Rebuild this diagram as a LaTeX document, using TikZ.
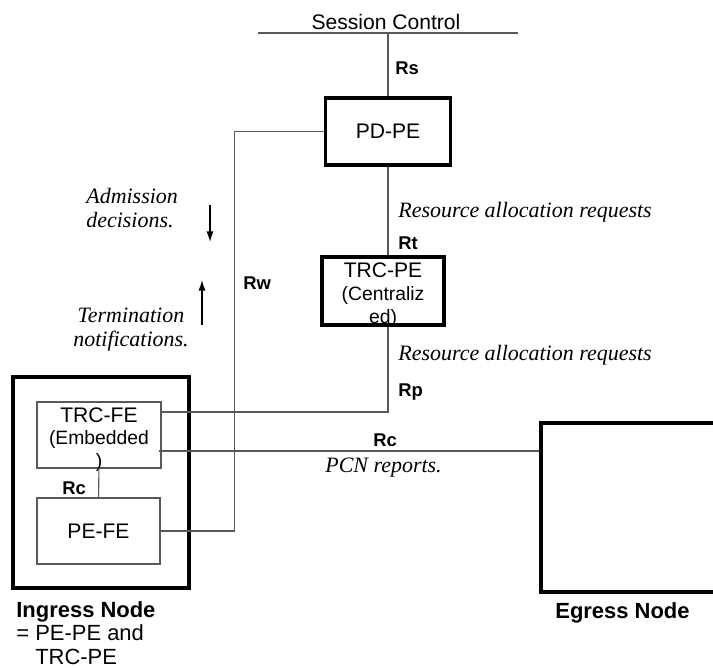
\documentclass[tikz,border=0pt]{standalone}
\usepackage{fontspec}
\setmainfont{Liberation Sans}
\newfontfamily\notefont{Liberation Serif}
\usetikzlibrary{arrows.meta, positioning}
\tikzset{
    pebox/.style={
        rectangle, draw=black, line width=2.2pt,
        inner sep=0pt, align=center,
        font=\fontsize{12}{14}\selectfont
    },
    febox/.style={
        rectangle, draw=black!65, line width=0.6pt,
        inner sep=0pt, align=center,
        font=\fontsize{12}{14}\selectfont
    },
    boxtext/.style={inner sep=0pt, align=center, font=\fontsize{11}{13}\selectfont},
    link/.style={draw=black!65, line width=0.6pt},
    tag/.style={font=\fontsize{10.5}{12}\selectfont\bfseries, inner sep=0pt, anchor=west},
    note/.style={font=\notefont\itshape\fontsize{12.5}{13.5}\selectfont, inner sep=0pt},
    nodename/.style={font=\fontsize{12.5}{13.5}\selectfont, inner sep=0pt},
    flowarrow/.style={draw=black, line width=0.7pt, -{Latex[length=6pt, width=4pt]}}
}

\begin{document}
\begin{tikzpicture}[x=0.02cm, y=-0.02cm]
\useasboundingbox (0,0) rectangle (713,668);

% Session control bus (top)
\node[font=\fontsize{12}{14}\selectfont, anchor=base] (session) at (386,30) {Session Control};
\coordinate (busl) at (258,33);
\coordinate (busr) at (518,33);
\draw[link] (busl) -- (busr);

% Policy decision and centralized TRC
\node[pebox, minimum width=2.5cm, minimum height=1.34cm] (pdpe) at (388,131.5) {PD-PE};
\node[pebox, minimum width=2.44cm, minimum height=1.36cm] (trcpe) at (383,291) {};
\node[boxtext] (trcpetext) at ([yshift=-0.08cm]trcpe) {{\fontsize{12}{14}\selectfont TRC-PE}\\(Centraliz\\ed)};

% Ingress node with embedded TRC
\node[pebox, minimum width=3.52cm, minimum height=4.22cm] (ingress) at (101,482.5) {};
\node[febox, minimum width=2.48cm, minimum height=1.32cm] (trcfe) at (99,435) {};
\node[boxtext] (trcfetext) at ([yshift=-0.09cm]trcfe) {{\fontsize{12}{14}\selectfont TRC-FE}\\(Embedded\\)};
\node[febox, minimum width=2.46cm, minimum height=1.32cm] (pefe) at (98.5,531) {PE-FE};

% Egress node (runs off the right edge)
\node[pebox, minimum width=3.8cm, minimum height=3.38cm] (egress) at (636,507.5) {};

% Reference point labels
\node[tag] (rs) at (395,68) {Rs};
\node[tag] (rt) at (398,243) {Rt};
\node[tag] (rw) at (243,283) {Rw};
\node[tag] (rp) at (398,392) {Rp};
\node[tag] (rcext) at (373,440) {Rc};
\node[tag] (rcint) at (62,488) {Rc};

% Message annotations
\node[note, anchor=west] (req1) at (398,212) {Resource allocation requests};
\node[note, anchor=west] (req2) at (398,355) {Resource allocation requests};
\node[note, anchor=west] (pcn) at (325,468) {PCN reports.};
\node[note, align=left, anchor=north west] (admit) at (86,188) {Admission\\decisions.};
\node[note, align=center, anchor=north] (term) at (131,308) {Termination\\notifications.};

% Node names
\node[nodename, align=left, anchor=north west] (ingname) at (16,601)
    {\textbf{Ingress Node}\\= PE-PE and\\\hphantom{=~}TRC-PE};
\node[nodename, anchor=base west] (egrname) at (555,618) {\textbf{Egress Node}};

% Direction arrows
\coordinate (admtop) at (210,205);
\coordinate (admbot) at (210,242);
\draw[flowarrow] (admtop) -- (admbot);
\coordinate (termbot) at (202,325);
\coordinate (termtop) at (202,280);
\draw[flowarrow] (termbot) -- (termtop);

% Interfaces
\draw[link] (busl -| pdpe) -- (pdpe);
\draw[link] (pdpe) -- (pdpe |- trcpe.north);
\draw[link] ([yshift=0.46cm]trcfe.east) -| (pdpe |- trcpe.south);
\draw[link] (pdpe.west) -- ++(-89,0) |- (pefe.east);
\coordinate (rcleft) at ([xshift=-0.06cm, yshift=-0.32cm]trcfe.east);
\draw[link] (rcleft) -- (rcleft -| egress.west);
\draw[link] (trcfe) -- (pefe);

\end{tikzpicture}
\end{document}
